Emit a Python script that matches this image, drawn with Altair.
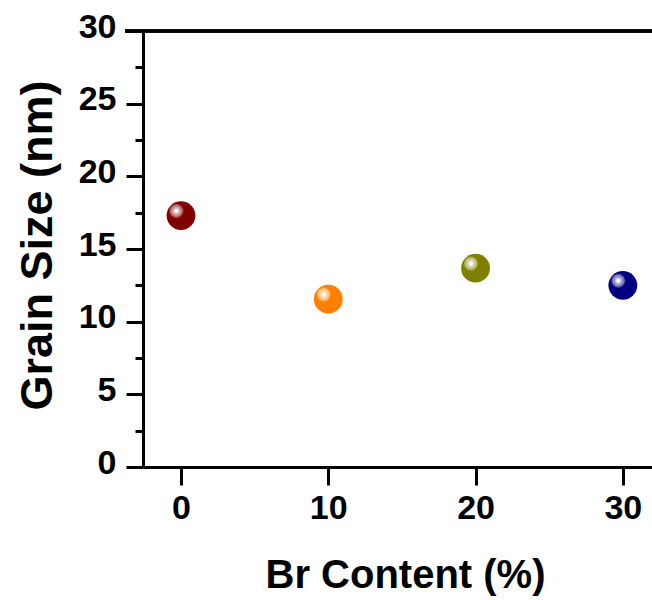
import altair as alt
import pandas as pd

# data
br_content = [0, 10, 20, 30]
grain_size = [17.3, 11.55, 13.68, 12.5]
colors = ["#800000", "#FF8000", "#808000", "#000080"]

y_tick_values = [0, 2.5, 5, 7.5, 10, 12.5, 15, 17.5, 20, 22.5, 25, 27.5, 30]
x_tick_values = [0, 10, 20, 30]

df = pd.DataFrame({"br": br_content, "size": grain_size})

FONT = "Liberation Sans, Arial, sans-serif"


def mix(hex_color, t):
    h = hex_color.lstrip("#")
    r, g, b = (int(h[i:i + 2], 16) for i in (0, 2, 4))
    r = round(r + (255 - r) * t)
    g = round(g + (255 - g) * t)
    b = round(b + (255 - b) * t)
    return f"#{r:02x}{g:02x}{b:02x}"


x_scale = alt.Scale(domain=[-2.58, 31.98], nice=False, zero=False)
y_scale = alt.Scale(domain=[0, 30], nice=False, zero=False)

x_enc = alt.X(
    "br:Q",
    scale=x_scale,
    axis=alt.Axis(
        values=x_tick_values,
        format="d",
        title="Br Content (%)",
        titleFont=FONT,
        titleFontSize=40,
        titleFontWeight="bold",
        titleColor="black",
        titleBaseline="alphabetic",
        titleAlign="center",
        titleX=262,
        titleY=120,
        labelFont=FONT,
        labelFontSize=34,
        labelFontWeight="bold",
        labelColor="black",
        labelPadding=6,
        tickSize=18,
        tickWidth=3,
        tickColor="black",
        domainWidth=3,
        domainColor="black",
        grid=False,
    ),
)

y_enc = alt.Y(
    "size:Q",
    scale=y_scale,
    axis=alt.Axis(
        values=y_tick_values,
        labelExpr="datum.value % 5 === 0 ? datum.label : ''",
        format="d",
        title="Grain Size (nm)",
        titleFont=FONT,
        titleFontSize=45,
        titleFontWeight="bold",
        titleColor="black",
        titleAngle=270,
        titleBaseline="alphabetic",
        titleAlign="center",
        titleX=-92,
        titleY=214,
        labelFont=FONT,
        labelFontSize=34,
        labelFontWeight="bold",
        labelColor="black",
        labelPadding=10,
        labelOffset=-4,
        tickSize={"condition": {"test": "datum.value % 5 === 0", "value": 17}, "value": 8},
        tickWidth=3,
        tickColor="black",
        domainWidth=3,
        domainColor="black",
        grid=False,
    ),
)

layers = []
for xv, col in zip(br_content, colors):
    grad = alt.RadialGradient(
        gradient="radial",
        x1=0.34, y1=0.34, r1=0,
        x2=0.34, y2=0.34, r2=0.5,
        stops=[
            alt.GradientStop(offset=0.0, color="#ffffff"),
            alt.GradientStop(offset=0.10, color="#ffffff"),
            alt.GradientStop(offset=0.18, color=mix(col, 0.72)),
            alt.GradientStop(offset=0.32, color=mix(col, 0.55)),
            alt.GradientStop(offset=0.44, color=mix(col, 0.35)),
            alt.GradientStop(offset=0.50, color=col),
            alt.GradientStop(offset=1.0, color=col),
        ],
    )
    layer = (
        alt.Chart(df)
        .transform_filter(alt.datum.br == xv)
        .mark_point(shape="circle", filled=True, size=830, fill=grad, opacity=1, strokeWidth=0)
        .encode(x=x_enc, y=y_enc)
    )
    layers.append(layer)

# top frame line
top = (
    alt.Chart(df)
    .mark_rule(color="black", strokeWidth=3)
    .encode(x=alt.value(-18), x2=alt.value(509), y=alt.value(0))
)

chart = (
    alt.layer(*layers, top)
    .properties(
        width=509,
        height=436,
        autosize=alt.AutoSizeParams(type="none"),
        padding={"left": 143, "top": 31, "right": 0, "bottom": 133},
    )
    .configure_view(stroke=None)
    .configure(background="white")
)

chart.save("out.html", embed_options={"renderer": "svg", "actions": False})
